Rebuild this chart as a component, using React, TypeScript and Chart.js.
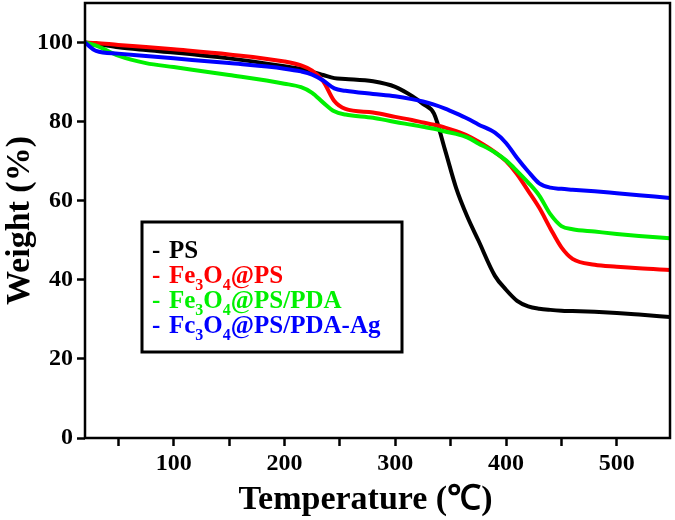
import React, { useEffect, useRef } from 'react';
import { Chart, registerables } from 'chart.js';

Chart.register(...registerables);

const temperatures = [20, 30, 50, 75, 100, 150, 200, 215, 225, 235, 245, 255, 280, 300, 315, 325, 335, 345, 355, 365, 375, 390, 400, 410, 420, 430, 440, 450, 460, 480, 500, 520, 548];

const psWeight = [100, 99.7, 98.8, 98.1, 97.5, 96.0, 94.0, 93.3, 92.6, 91.8, 91.0, 90.8, 90.2, 88.8, 86.5, 84.5, 82.0, 72.8, 63.2, 56.0, 50.0, 41.0, 37.5, 34.7, 33.3, 32.7, 32.4, 32.2, 32.1, 31.9, 31.6, 31.2, 30.6];
const fePsWeight = [100, 99.9, 99.4, 98.9, 98.3, 97.0, 95.2, 94.2, 92.9, 90.2, 85.2, 83.2, 82.3, 81.2, 80.4, 79.8, 79.2, 78.5, 77.6, 76.5, 75.0, 72.3, 70.0, 66.7, 62.5, 58.2, 53.0, 48.2, 45.3, 43.8, 43.3, 42.9, 42.5];
const pdaWeight = [100, 99.2, 96.7, 94.8, 93.8, 91.8, 89.6, 88.7, 87.3, 84.8, 82.6, 81.8, 81.0, 79.9, 79.2, 78.7, 78.2, 77.5, 76.9, 76.0, 74.5, 72.2, 70.2, 67.5, 64.6, 61.3, 56.6, 53.6, 52.8, 52.2, 51.6, 51.1, 50.5];
const agWeight = [100, 97.9, 97.2, 96.6, 96.0, 94.8, 93.4, 92.7, 91.9, 90.4, 88.4, 87.8, 87.0, 86.4, 85.7, 85.1, 84.3, 83.3, 82.1, 80.8, 79.3, 77.2, 74.6, 70.8, 67.4, 64.4, 63.3, 63.0, 62.8, 62.4, 61.9, 61.4, 60.7];

const seriesLabels = ['PS', 'Fe3O4@PS', 'Fe3O4@PS/PDA', 'Fc3O4@PS/PDA-Ag'];
const seriesColors = ['#000000', '#ff0000', '#00f000', '#0000ff'];

const xTickValues = [50, 100, 150, 200, 250, 300, 350, 400, 450, 500];
const xLabelValues = [100, 200, 300, 400, 500];
const yTickValues = [0, 20, 40, 60, 80, 100];
const xTitle = 'Temperature (℃)';
const yTitle = 'Weight (%)';

const SERIF = '"Liberation Serif", "Times New Roman", serif';

const framePlugin = {
  id: 'frame',
  afterDraw(chart: any) {
    const { ctx, chartArea } = chart;
    ctx.save();
    ctx.strokeStyle = '#000';
    ctx.lineWidth = 2.5;
    ctx.strokeRect(chartArea.left, chartArea.top, chartArea.right - chartArea.left, chartArea.bottom - chartArea.top);
    // x axis title, slightly left of the plot centre as in the reference
    ctx.fillStyle = '#000';
    ctx.font = `bold 34px ${SERIF}`;
    ctx.textAlign = 'center';
    ctx.textBaseline = 'middle';
    const cx = (chartArea.left + chartArea.right) / 2 - 12;
    ctx.fillText(xTitle, cx, chartArea.bottom + 62);
    ctx.restore();
  },
};

const legendPlugin = {
  id: 'customLegend',
  afterDraw(chart: any) {
    const { ctx, chartArea } = chart;
    const bx = chartArea.left + 57;
    const by = chartArea.top + 219;
    const bw = 260;
    const bh = 130;
    ctx.save();
    ctx.fillStyle = '#fff';
    ctx.fillRect(bx, by, bw, bh);
    ctx.strokeStyle = '#000';
    ctx.lineWidth = 3;
    ctx.strokeRect(bx, by, bw, bh);
    const bigFont = `bold 25px ${SERIF}`;
    const smallFont = `bold 16px ${SERIF}`;
    ctx.textBaseline = 'alphabetic';
    ctx.textAlign = 'left';
    seriesLabels.forEach((label, i) => {
      const baseY = by + 36 + i * 25;
      ctx.fillStyle = seriesColors[i];
      ctx.font = bigFont;
      ctx.fillText('-', bx + 10, baseY);
      let x = bx + 27;
      const parts = label.split(/(\d)/).filter((p) => p.length > 0);
      parts.forEach((p) => {
        const isSub = /^\d$/.test(p);
        ctx.font = isSub ? smallFont : bigFont;
        ctx.fillText(p, x, isSub ? baseY + 7 : baseY);
        x += ctx.measureText(p).width;
      });
    });
    ctx.restore();
  },
};

export default function App() {
  const canvasRef = useRef<HTMLCanvasElement | null>(null);

  useEffect(() => {
    document.body.style.margin = '0';
    const canvas = canvasRef.current;
    if (!canvas) return;
    const seriesData = [psWeight, fePsWeight, pdaWeight, agWeight];
    const chart = new Chart(canvas, {
      type: 'line',
      data: {
        datasets: seriesData.map((vals, i) => ({
          label: seriesLabels[i],
          data: temperatures.map((t, j) => ({ x: t, y: vals[j] })),
          borderColor: seriesColors[i],
          backgroundColor: seriesColors[i],
          borderWidth: 4,
          pointRadius: 0,
          cubicInterpolationMode: 'monotone' as const,
          fill: false,
          order: 3 - i,
        })),
      },
      options: {
        responsive: false,
        animation: false,
        layout: { padding: { top: 3, right: 5, left: 0, bottom: 0 } },
        plugins: {
          legend: { display: false },
          tooltip: { enabled: false },
        },
        scales: {
          x: {
            type: 'linear',
            min: 20,
            max: 548,
            afterBuildTicks: (axis: any) => {
              axis.ticks = xTickValues.map((v) => ({ value: v }));
            },
            afterFit: (axis: any) => {
              axis.height = 82;
              axis.paddingLeft = 0;
              axis.paddingRight = 0;
            },
            border: { display: false },
            grid: {
              drawOnChartArea: false,
              drawTicks: true,
              tickLength: 8,
              tickWidth: 2.5,
              tickColor: '#000',
            },
            ticks: {
              autoSkip: false,
              maxRotation: 0,
              padding: 3,
              color: '#000',
              font: { family: SERIF, size: 24, weight: 'bold' },
              callback: (v: any) => (xLabelValues.includes(Number(v)) ? String(v) : ''),
            },
            title: { display: false },
          },
          y: {
            type: 'linear',
            min: 0,
            max: 110,
            afterBuildTicks: (axis: any) => {
              axis.ticks = yTickValues.map((v) => ({ value: v }));
            },
            afterFit: (axis: any) => {
              axis.width = 85;
              axis.paddingTop = 0;
              axis.paddingBottom = 0;
            },
            border: { display: false },
            grid: {
              drawOnChartArea: false,
              drawTicks: true,
              tickLength: 8,
              tickWidth: 2.5,
              tickColor: '#000',
            },
            ticks: {
              autoSkip: false,
              padding: 4,
              color: '#000',
              font: { family: SERIF, size: 24, weight: 'bold' },
            },
            title: {
              display: true,
              text: yTitle,
              color: '#000',
              font: { family: SERIF, size: 34, weight: 'bold' },
              padding: { top: 0, bottom: 0 },
            },
          },
        },
      },
      plugins: [framePlugin, legendPlugin],
    });
    return () => chart.destroy();
  }, []);

  return (
    <div style={{ width: 675, height: 520, background: '#fff' }}>
      <canvas ref={canvasRef} width={675} height={520} />
    </div>
  );
}
